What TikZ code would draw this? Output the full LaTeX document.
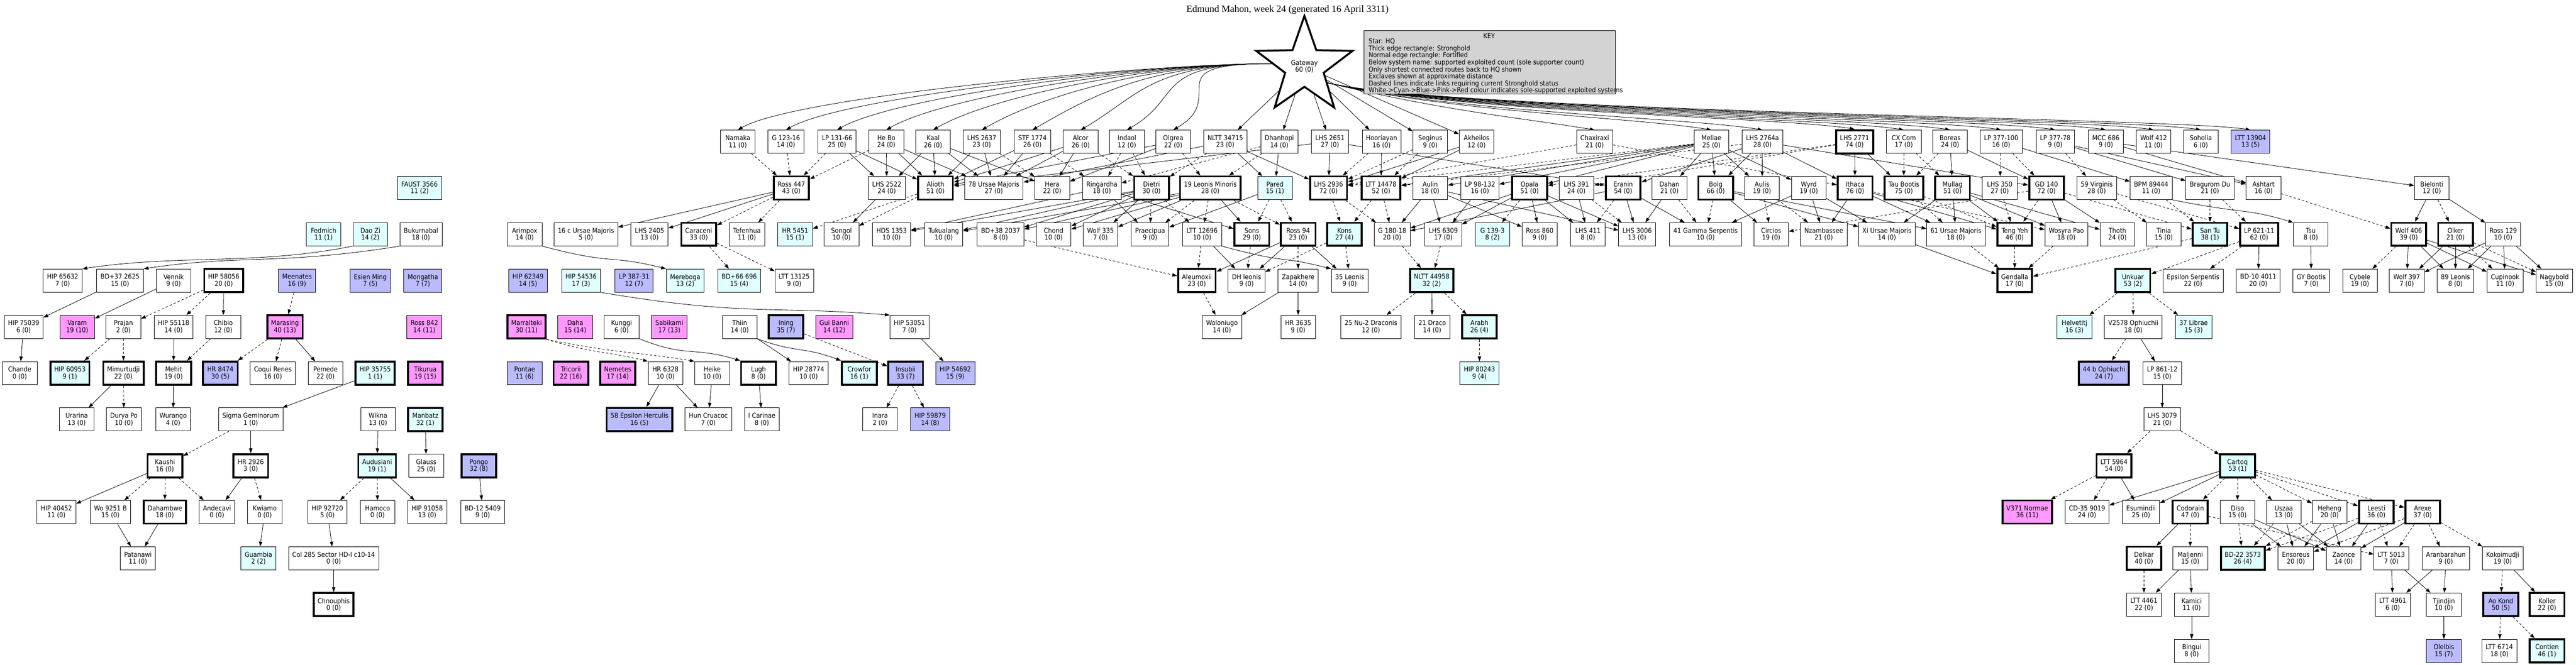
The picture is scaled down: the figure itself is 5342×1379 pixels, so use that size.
\documentclass[tikz,border=0pt]{standalone}
\usepackage{fontspec}
\usetikzlibrary{shapes.geometric,arrows.meta,backgrounds}
\newfontfamily\nf{DejaVu Sans Condensed}
\newfontfamily\tf{Liberation Serif}
\newcommand\nodefont{\nf\fontsize{14}{14.5}\selectfont}
\definecolor{cyanc}{HTML}{E0FFFF}
\definecolor{bluec}{HTML}{BBBBFF}
\definecolor{pinkc}{HTML}{FF99FF}
\definecolor{keyc}{HTML}{D3D3D3}
\tikzset{
 sys/.style={draw, rectangle, line width=1pt, minimum width=72pt, minimum height=48pt, inner xsep=8pt, inner ysep=3pt, align=center, font=\nodefont, fill=white},
 sh/.style={sys, line width=4pt},
 cy/.style={fill=cyanc}, bl/.style={fill=bluec}, pk/.style={fill=pinkc},
 ln/.style={-{Triangle[length=10pt,width=7pt]}, line width=0.9pt},
 dl/.style={ln, dash pattern=on 5pt off 4pt},
}
\begin{document}
\begin{tikzpicture}[x=1pt,y=-1pt]
\useasboundingbox (0,0) rectangle (5342,1379);
\node[font=\tf\fontsize{20}{24}\selectfont] (title) at (2670,20) {Edmund Mahon, week 24 (generated 16 April 3311)};
\node[star, star points=5, star point ratio=2.5, minimum size=210pt, draw, line width=4pt, fill=white, font=\nodefont, align=center, inner sep=0pt] (gw) at (2705,138) {Gateway\\60 (0)};
\node[draw, line width=1pt, fill=keyc, minimum width=521pt, minimum height=131pt, anchor=north west] (key) at (2828,63) {};
\node[font=\nodefont] (keyt) at (3088,75) {KEY};
\node[font=\nodefont, align=left, anchor=north west, inner sep=0pt] (keyb) at (2838,80) {Star: HQ\\Thick edge rectangle: Stronghold\\Normal edge rectangle: Fortified\\Below system name: supported exploited count (sole supporter count)\\Only shortest connected routes back to HQ shown\\Exclaves shown at approximate distance\\Dashed lines indicate links requiring current Stronghold status\\White->Cyan->Blue->Pink->Red colour indicates sole-supported exploited systems};
% row1
\node[sys] (namaka) at (1530,294) {Namaka\\11 (0)};
\node[sys] (g12316) at (1630,294) {G 123-16\\14 (0)};
\node[sys] (lp13166) at (1736,294) {LP 131-66\\25 (0)};
\node[sys] (hebo) at (1838,294) {He Bo\\24 (0)};
\node[sys] (kaal) at (1935,294) {Kaal\\26 (0)};
\node[sys] (lhs2637) at (2036,294) {LHS 2637\\23 (0)};
\node[sys] (stf1774) at (2141,294) {STF 1774\\26 (0)};
\node[sys] (alcor) at (2241,294) {Alcor\\26 (0)};
\node[sys] (indaol) at (2337,294) {Indaol\\12 (0)};
\node[sys] (olgrea) at (2433,294) {Olgrea\\22 (0)};
\node[sys] (nltt34715) at (2541,294) {NLTT 34715\\23 (0)};
\node[sys] (dhanhopi) at (2653,294) {Dhanhopi\\14 (0)};
\node[sys] (lhs2651) at (2758,294) {LHS 2651\\27 (0)};
\node[sys] (hooriayan) at (2865,294) {Hooriayan\\16 (0)};
\node[sys] (seginus) at (2966,294) {Seginus\\9 (0)};
\node[sys] (akheilos) at (3062,294) {Akheilos\\12 (0)};
\node[sys] (chaxiraxi) at (3307,294) {Chaxiraxi\\21 (0)};
\node[sys] (meliae) at (3549,294) {Meliae\\25 (0)};
\node[sys] (lhs2764a) at (3655,294) {LHS 2764a\\28 (0)};
\node[sh] (lhs2771) at (3846,294) {LHS 2771\\74 (0)};
\node[sys] (cxcom) at (3948,294) {CX Com\\17 (0)};
\node[sys] (boreas) at (4044,294) {Boreas\\24 (0)};
\node[sys] (lp377100) at (4150,294) {LP 377-100\\16 (0)};
\node[sys] (lp37778) at (4262,294) {LP 377-78\\9 (0)};
\node[sys] (mcc686) at (4367,294) {MCC 686\\9 (0)};
\node[sys] (wolf412) at (4466,294) {Wolf 412\\11 (0)};
\node[sys] (soholia) at (4564,294) {Soholia\\6 (0)};
\node[sys,bl] (ltt13904) at (4667,294) {LTT 13904\\13 (5)};
% row2
\node[sys,cy] (faust) at (870,390) {FAUST 3566\\11 (2)};
\node[sh] (ross447) at (1641,390) {Ross 447\\43 (0)};
\node[sys] (lhs2522) at (1839,390) {LHS 2522\\24 (0)};
\node[sh] (alioth) at (1940,390) {Alioth\\51 (0)};
\node[sys] (uma78) at (2061,390) {78 Ursae Majoris\\27 (0)};
\node[sys] (hera) at (2182,390) {Hera\\22 (0)};
\node[sys] (ringardha) at (2285,390) {Ringardha\\18 (0)};
\node[sh] (dietri) at (2388,390) {Dietri\\30 (0)};
\node[sh] (lmi19) at (2510,390) {19 Leonis Minoris\\28 (0)};
\node[sys,cy] (pared) at (2644,390) {Pared\\15 (1)};
\node[sh] (lhs2936) at (2755,390) {LHS 2936\\72 (0)};
\node[sh] (ltt14478) at (2864,390) {LTT 14478\\52 (0)};
\node[sys] (aulin) at (2966,390) {Aulin\\18 (0)};
\node[sys] (lp98132) at (3069,390) {LP 98-132\\16 (0)};
\node[sh] (opala) at (3172,390) {Opala\\51 (0)};
\node[sys] (lhs391) at (3269,390) {LHS 391\\24 (0)};
\node[sh] (eranin) at (3366,390) {Eranin\\54 (0)};
\node[sys] (dahan) at (3462,390) {Dahan\\21 (0)};
\node[sh] (bolg) at (3558,390) {Bolg\\66 (0)};
\node[sys] (aulis) at (3654,390) {Aulis\\19 (0)};
\node[sys] (wyrd) at (3751,390) {Wyrd\\19 (0)};
\node[sh] (ithaca) at (3847,390) {Ithaca\\76 (0)};
\node[sh] (taub) at (3948,390) {Tau Bootis\\75 (0)};
\node[sh] (mullag) at (4049,390) {Mullag\\51 (0)};
\node[sys] (lhs350) at (4147,390) {LHS 350\\27 (0)};
\node[sh] (gd140) at (4244,390) {GD 140\\72 (0)};
\node[sys] (vir59) at (4348,390) {59 Virginis\\28 (0)};
\node[sys] (bpm) at (4461,390) {BPM 89444\\11 (0)};
\node[sys] (bragurom) at (4583,390) {Bragurom Du\\21 (0)};
\node[sys] (ashtart) at (4694,390) {Ashtart\\16 (0)};
\node[sys] (bielonti) at (5043,390) {Bielonti\\12 (0)};
% row3
\node[sys,cy] (fedmich) at (671,486) {Fedmich\\11 (1)};
\node[sys,cy] (daozi) at (768,486) {Dao Zi\\14 (2)};
\node[sys] (bukurnabal) at (873,486) {Bukurnabal\\18 (0)};
\node[sys] (arimpox) at (1088,486) {Arimpox\\14 (0)};
\node[sys] (uma16) at (1215,486) {16 c Ursae Majoris\\5 (0)};
\node[sys] (lhs2405) at (1347,486) {LHS 2405\\13 (0)};
\node[sh] (caraceni) at (1449,486) {Caraceni\\33 (0)};
\node[sys] (tefenhua) at (1549,486) {Tefenhua\\11 (0)};
\node[sys,cy] (hr5451) at (1649,486) {HR 5451\\15 (1)};
\node[sys] (songol) at (1745,486) {Songol\\10 (0)};
\node[sys] (hds1353) at (1849,486) {HDS 1353\\10 (0)};
\node[sys] (tukualang) at (1957,486) {Tukualang\\10 (0)};
\node[sys] (bd382037) at (2075,486) {BD+38 2037\\8 (0)};
\node[sys] (chond) at (2185,486) {Chond\\10 (0)};
\node[sys] (wolf335) at (2282,486) {Wolf 335\\7 (0)};
\node[sys] (praecipua) at (2385,486) {Praecipua\\9 (0)};
\node[sys] (ltt12696) at (2493,486) {LTT 12696\\10 (0)};
\node[sh] (sons) at (2596,486) {Sons\\29 (0)};
\node[sh] (ross94) at (2692,486) {Ross 94\\23 (0)};
\node[sh,cy] (kons) at (2788,486) {Kons\\27 (4)};
\node[sys] (g18018) at (2887,486) {G 180-18\\20 (0)};
\node[sys] (lhs6309) at (2993,486) {LHS 6309\\17 (0)};
\node[sys,cy] (g1393) at (3095,486) {G 139-3\\8 (2)};
\node[sys] (ross860) at (3193,486) {Ross 860\\9 (0)};
\node[sys] (lhs411) at (3293,486) {LHS 411\\8 (0)};
\node[sys] (lhs3006) at (3395,486) {LHS 3006\\13 (0)};
\node[sys] (gam41) at (3537,486) {41 Gamma Serpentis\\10 (0)};
\node[sys] (circios) at (3673,486) {Circios\\19 (0)};
\node[sys] (nzamb) at (3782,486) {Nzambassee\\21 (0)};
\node[sys] (xiuma) at (3913,486) {Xi Ursae Majoris\\14 (0)};
\node[sys] (uma61) at (4056,486) {61 Ursae Majoris\\18 (0)};
\node[sh] (tengyeh) at (4178,486) {Teng Yeh\\46 (0)};
\node[sys] (wosyra) at (4285,486) {Wosyra Pao\\18 (0)};
\node[sys] (thoth) at (4391,486) {Thoth\\24 (0)};
\node[sys] (tinia) at (4487,486) {Tinia\\15 (0)};
\node[sh,cy] (santu) at (4583,486) {San Tu\\38 (1)};
\node[sh] (lp62111) at (4685,486) {LP 621-11\\62 (0)};
\node[sys] (tsu) at (4792,486) {Tsu\\8 (0)};
\node[sh] (wolf406) at (4995,486) {Wolf 406\\39 (0)};
\node[sh] (olker) at (5092,486) {Olker\\21 (0)};
\node[sys] (ross129) at (5191,486) {Ross 129\\10 (0)};
% row4
\node[sys] (hip65632) at (130,582) {HIP 65632\\7 (0)};
\node[sys] (bd372625) at (249,582) {BD+37 2625\\15 (0)};
\node[sys] (vennik) at (360,582) {Vennik\\9 (0)};
\node[sh] (hip58056) at (464,582) {HIP 58056\\20 (0)};
\node[sys,bl] (meenates) at (616,582) {Meenates\\16 (9)};
\node[sys,bl] (esien) at (768,582) {Esien Ming\\7 (5)};
\node[sys,bl] (mongatha) at (877,582) {Mongatha\\7 (7)};
\node[sys,bl] (hip62349) at (1095,582) {HIP 62349\\14 (5)};
\node[sys,cy] (hip54536) at (1205,582) {HIP 54536\\17 (3)};
\node[sys,bl] (lp38731) at (1315,582) {LP 387-31\\12 (7)};
\node[sys,cy] (mereboga) at (1421,582) {Mereboga\\13 (2)};
\node[sys,cy] (bd66696) at (1533,582) {BD+66 696\\15 (4)};
\node[sys] (ltt13125) at (1647,582) {LTT 13125\\9 (0)};
\node[sh] (aleumoxii) at (2482,582) {Aleumoxii\\23 (0)};
\node[sys] (dhleo) at (2585,582) {DH leonis\\9 (0)};
\node[sys] (zapakhere) at (2692,582) {Zapakhere\\14 (0)};
\node[sys] (leo35) at (2799,582) {35 Leonis\\9 (0)};
\node[sh,cy] (nltt44958) at (2969,582) {NLTT 44958\\32 (2)};
\node[sh] (gendalla) at (4178,582) {Gendalla\\17 (0)};
\node[sh,cy] (unkuar) at (4423,582) {Unkuar\\53 (2)};
\node[sys] (epsser) at (4548,582) {Epsilon Serpentis\\22 (0)};
\node[sys] (bd104011) at (4683,582) {BD-10 4011\\20 (0)};
\node[sys] (gyboo) at (4793,582) {GY Bootis\\7 (0)};
\node[sys] (cybele) at (4894,582) {Cybele\\19 (0)};
\node[sys] (wolf397) at (4991,582) {Wolf 397\\7 (0)};
\node[sys] (leo89) at (5092,582) {89 Leonis\\8 (0)};
\node[sys] (cupinook) at (5195,582) {Cupinook\\11 (0)};
\node[sys] (nagybold) at (5297,582) {Nagybold\\15 (0)};
% row5
\node[sys] (hip75039) at (49,678) {HIP 75039\\6 (0)};
\node[sys,pk] (varam) at (160,678) {Varam\\19 (10)};
\node[sys] (prajan) at (256,678) {Prajan\\2 (0)};
\node[sys] (hip55118) at (360,678) {HIP 55118\\14 (0)};
\node[sys] (chibio) at (463,678) {Chibio\\12 (0)};
\node[sh,pk] (marasing) at (591,678) {Marasing\\40 (13)};
\node[sys,pk] (ross842) at (880,678) {Ross 842\\14 (11)};
\node[sh,pk] (marralteki) at (1092,678) {Marralteki\\30 (11)};
\node[sys,pk] (daha) at (1193,678) {Daha\\15 (14)};
\node[sys] (kunggi) at (1289,678) {Kunggi\\6 (0)};
\node[sys,pk] (sabikami) at (1388,678) {Sabikami\\17 (13)};
\node[sys] (thiin) at (1534,678) {Thiin\\14 (0)};
\node[sh,bl] (ining) at (1630,678) {Ining\\35 (7)};
\node[sys,pk] (guibanni) at (1730,678) {Gui Banni\\14 (12)};
\node[sys] (hip53051) at (1886,678) {HIP 53051\\7 (0)};
\node[sys] (woloniugo) at (2534,678) {Woloniugo\\14 (0)};
\node[sys] (hr3635) at (2692,678) {HR 3635\\9 (0)};
\node[sys] (nu2dra) at (2843,678) {25 Nu-2 Draconis\\12 (0)};
\node[sys] (dra21) at (2970,678) {21 Draco\\14 (0)};
\node[sh,cy] (arabh) at (3068,678) {Arabh\\26 (4)};
\node[sys,cy] (helvetitj) at (4302,678) {Helvetitj\\16 (3)};
\node[sys] (v2578) at (4424,678) {V2578 Ophiuchii\\18 (0)};
\node[sys,cy] (lib37) at (4549,678) {37 Librae\\15 (3)};
% row6
\node[sys] (chande) at (41,774) {Chande\\0 (0)};
\node[sh,cy] (hip60953) at (145,774) {HIP 60953\\9 (1)};
\node[sh] (mimurtudji) at (256,774) {Mimurtudji\\22 (0)};
\node[sh] (mehit) at (360,774) {Mehit\\19 (0)};
\node[sh,bl] (hr8474) at (457,774) {HR 8474\\30 (5)};
\node[sys] (coqui) at (566,774) {Coqui Renes\\16 (0)};
\node[sys] (pemede) at (675,774) {Pemede\\22 (0)};
\node[sh,cy] (hip35755) at (778,774) {HIP 35755\\1 (1)};
\node[sh,pk] (tikurua) at (882,774) {Tikurua\\19 (15)};
\node[sys,bl] (pontae) at (1088,774) {Pontae\\11 (6)};
\node[sh,pk] (tricorii) at (1184,774) {Tricorii\\22 (16)};
\node[sh,pk] (nemetes) at (1281,774) {Nemetes\\17 (14)};
\node[sys] (hr6328) at (1380,774) {HR 6328\\10 (0)};
\node[sys] (heike) at (1477,774) {Heike\\10 (0)};
\node[sh] (lugh) at (1573,774) {Lugh\\8 (0)};
\node[sys] (hip28774) at (1677,774) {HIP 28774\\10 (0)};
\node[sh,cy] (crowfor) at (1782,774) {Crowfor\\16 (1)};
\node[sh,bl] (insubii) at (1878,774) {Insubii\\33 (7)};
\node[sys,bl] (hip54692) at (1981,774) {HIP 54692\\15 (9)};
\node[sys,cy] (hip80243) at (3068,774) {HIP 80243\\9 (4)};
\node[sh,bl] (oph44b) at (4363,774) {44 b Ophiuchi\\24 (7)};
\node[sys] (lp86112) at (4484,774) {LP 861-12\\15 (0)};
% row7
\node[sys] (urarina) at (159,870) {Urarina\\13 (0)};
\node[sys] (durya) at (257,870) {Durya Po\\10 (0)};
\node[sys] (wurango) at (359,870) {Wurango\\4 (0)};
\node[sys] (siggem) at (520,870) {Sigma Geminorum\\1 (0)};
\node[sys] (wikna) at (784,870) {Wikna\\13 (0)};
\node[sh,cy] (manbatz) at (882,870) {Manbatz\\32 (1)};
\node[sh,bl] (epsher58) at (1326,870) {58 Epsilon Herculis\\16 (5)};
\node[sys] (huncru) at (1469,870) {Hun Cruacoc\\7 (0)};
\node[sys] (icar) at (1580,870) {I Carinae\\8 (0)};
\node[sys] (inara) at (1825,870) {Inara\\2 (0)};
\node[sys,bl] (hip59879) at (1929,870) {HIP 59879\\14 (8)};
\node[sys] (lhs3079) at (4484,870) {LHS 3079\\21 (0)};
% row8
\node[sh] (kaushi) at (342,966) {Kaushi\\16 (0)};
\node[sh] (hr2926) at (520,966) {HR 2926\\3 (0)};
\node[sh,cy] (audusiani) at (782,966) {Audusiani\\19 (1)};
\node[sys] (glauss) at (884,966) {Glauss\\25 (0)};
\node[sh,bl] (pongo) at (993,966) {Pongo\\32 (8)};
\node[sh] (ltt5964) at (4384,966) {LTT 5964\\54 (0)};
\node[sh,cy] (cartoq) at (4640,966) {Cartoq\\53 (1)};
% row9
\node[sys] (hip40452) at (117,1062) {HIP 40452\\11 (0)};
\node[sys] (wo9251) at (229,1062) {Wo 9251 B\\15 (0)};
\node[sh] (dahambwe) at (342,1062) {Dahambwe\\18 (0)};
\node[sys] (andecavi) at (450,1062) {Andecavi\\0 (0)};
\node[sys] (kwiamo) at (549,1062) {Kwiamo\\0 (0)};
\node[sys] (hip92720) at (679,1062) {HIP 92720\\5 (0)};
\node[sys] (hamoco) at (783,1062) {Hamoco\\0 (0)};
\node[sys] (hip91058) at (886,1062) {HIP 91058\\13 (0)};
\node[sys] (bd125409) at (1001,1062) {BD-12 5409\\9 (0)};
\node[sh,pk] (v371) at (4204,1062) {V371 Normae\\36 (11)};
\node[sys] (cd359019) at (4328,1062) {CD-35 9019\\24 (0)};
\node[sys] (esumindii) at (4440,1062) {Esumindii\\25 (0)};
\node[sh] (codorain) at (4542,1062) {Codorain\\47 (0)};
\node[sys] (diso) at (4640,1062) {Diso\\15 (0)};
\node[sys] (uszaa) at (4736,1062) {Uszaa\\13 (0)};
\node[sys] (heheng) at (4831,1062) {Heheng\\20 (0)};
\node[sh] (leesti) at (4928,1062) {Leesti\\36 (0)};
\node[sh] (arexe) at (5024,1062) {Arexe\\37 (0)};
% row10
\node[sys] (patanawi) at (286,1158) {Patanawi\\11 (0)};
\node[sys,cy] (guambia) at (536,1158) {Guambia\\2 (2)};
\node[sys] (col285) at (692,1158) {Col 285 Sector HD-I c10-14\\0 (0)};
\node[sh] (delkar) at (4446,1158) {Delkar\\40 (0)};
\node[sys] (maljenni) at (4542,1158) {Maljenni\\15 (0)};
\node[sh,cy] (bd223573) at (4651,1158) {BD-22 3573\\26 (4)};
\node[sys] (ensoreus) at (4761,1158) {Ensoreus\\20 (0)};
\node[sys] (zaonce) at (4860,1158) {Zaonce\\14 (0)};
\node[sys] (ltt5013) at (4959,1158) {LTT 5013\\7 (0)};
\node[sys] (aranbarahun) at (5072,1158) {Aranbarahun\\9 (0)};
\node[sys] (kokoimudji) at (5190,1158) {Kokoimudji\\19 (0)};
% row11
\node[sh] (chnouphis) at (692,1254) {Chnouphis\\0 (0)};
\node[sys] (ltt4461) at (4446,1254) {LTT 4461\\22 (0)};
\node[sys] (kamici) at (4545,1254) {Kamici\\11 (0)};
\node[sys] (ltt4961) at (4962,1254) {LTT 4961\\6 (0)};
\node[sys] (tjindjin) at (5068,1254) {Tjindjin\\10 (0)};
\node[sh,bl] (aokond) at (5186,1254) {Ao Kond\\50 (5)};
\node[sh] (koller) at (5282,1254) {Koller\\22 (0)};
% row12
\node[sys] (bingui) at (4545,1350) {Bingui\\8 (0)};
\node[sys,bl] (olelbis) at (5068,1350) {Olelbis\\15 (7)};
\node[sys] (ltt6714) at (5183,1350) {LTT 6714\\18 (0)};
\node[sh,cy] (contien) at (5282,1350) {Contien\\46 (1)};

\begin{pgfonlayer}{background}
\foreach \n in {namaka,g12316,lp13166,hebo,kaal,lhs2637,stf1774,alcor,indaol,olgrea}
  \draw[ln] (gw.175) .. controls +(-250,0) and +(120,-70) .. (\n.north);
\foreach \n in {nltt34715,dhanhopi,lhs2651,hooriayan,seginus,akheilos}
  \draw[ln] (gw) -- (\n);
\foreach \n in {chaxiraxi,meliae,lhs2764a,lhs2771,cxcom,boreas,lp377100,lp37778,mcc686,wolf412,soholia,ltt13904}
  \draw[ln] (gw.-35) .. controls +(250,60) and +(-150,-25) .. (\n.north);
\foreach \a/\b in {lp13166/lhs2522,lp13166/alioth,hebo/lhs2522,hebo/alioth,hebo/uma78,kaal/lhs2522,kaal/alioth,kaal/uma78,kaal/hera,lhs2637/alioth,lhs2637/uma78,stf1774/uma78,stf1774/alioth,alcor/hera,alcor/alioth,alcor/uma78,olgrea/alioth,olgrea/hera,nltt34715/uma78,nltt34715/pared,nltt34715/lhs2936,dhanhopi/pared,lhs2651/lhs2936,lhs2651/alioth,lhs2651/eranin,hooriayan/ltt14478,akheilos/ltt14478,akheilos/lhs2936,meliae/bolg,meliae/aulis,meliae/aulin,meliae/lp98132,meliae/opala,meliae/dahan,meliae/wyrd,meliae/ltt14478,lhs2764a/aulis,lhs2764a/bolg,lhs2764a/ithaca,lhs2764a/eranin,lhs2764a/gd140,lhs2771/ithaca,lhs2771/taub,boreas/mullag,boreas/gd140,lp37778/bragurom,lp37778/ashtart,mcc686/bielonti,mcc686/ashtart,lp377100/bpm,
ross447/uma16,ross447/lhs2405,lhs2522/songol,ringardha/hds1353,ringardha/praecipua,ringardha/sons,dietri/hds1353,dietri/tukualang,dietri/bd382037,dietri/chond,dietri/wolf335,lmi19/tukualang,lmi19/bd382037,lmi19/chond,lmi19/wolf335,lmi19/sons,pared/praecipua,aulin/g18018,aulin/lhs6309,aulin/ross860,aulin/lhs3006,lp98132/lhs6309,opala/g18018,opala/lhs6309,opala/ross860,opala/lhs411,opala/lhs3006,lhs391/lhs411,eranin/lhs3006,eranin/gam41,eranin/g18018,dahan/lhs3006,bolg/circios,bolg/xiuma,bolg/uma61,wyrd/nzamb,wyrd/xiuma,wyrd/gam41,ithaca/nzamb,ithaca/uma61,ithaca/tengyeh,mullag/xiuma,mullag/uma61,mullag/tengyeh,mullag/wosyra,mullag/thoth,gd140/wosyra,gd140/thoth,bielonti/wolf406,bielonti/ross129,
bd372625/hip75039,vennik/varam,hip58056/chibio,hip75039/chande,hip55118/mehit,marasing/pemede,mimurtudji/urarina,mehit/wurango,hip35755/siggem,siggem/hr2926,wikna/audusiani,manbatz/glauss,kaushi/hip40452,hr2926/andecavi,audusiani/hip91058,wo9251/patanawi,dahambwe/patanawi,kwiamo/guambia,hip92720/col285,col285/chnouphis,pongo/bd125409,thiin/hip28774,hip53051/hip54692,hr6328/epsher58,hr6328/huncru,heike/huncru,lugh/icar,
ltt12696/dhleo,ross94/aleumoxii,ross94/leo35,ross94/dhleo,zapakhere/woloniugo,zapakhere/hr3635,nltt44958/dra21,xiuma/gendalla,lp62111/bd104011,tsu/gyboo,wolf406/wolf397,wolf406/leo89,wolf406/cupinook,wolf406/nagybold,olker/wolf397,olker/leo89,ross129/wolf397,ross129/leo89,ross129/cupinook,ross129/nagybold,v2578/lp86112,lp86112/lhs3079,ltt5964/esumindii,cartoq/cd359019,cartoq/esumindii,codorain/delkar,diso/ensoreus,diso/zaonce,uszaa/ensoreus,uszaa/zaonce,heheng/ensoreus,heheng/zaonce,leesti/ensoreus,leesti/zaonce,arexe/zaonce,maljenni/ltt4461,maljenni/kamici,kamici/bingui,ltt5013/ltt4961,ltt5013/tjindjin,aranbarahun/ltt4961,aranbarahun/tjindjin,tjindjin/olelbis,kokoimudji/koller}
  \draw[ln] (\a) -- (\b);
\foreach \a/\b in {namaka/ross447,g12316/ross447,lp13166/ross447,hebo/ross447,lhs2637/hera,stf1774/ringardha,alcor/dietri,indaol/dietri,indaol/ringardha,olgrea/lmi19,nltt34715/dietri,dhanhopi/ringardha,dhanhopi/lmi19,hooriayan/lhs2936,seginus/ltt14478,seginus/lhs2936,chaxiraxi/lhs2936,chaxiraxi/ithaca,meliae/lhs2936,lhs2764a/ltt14478,lhs2771/lhs391,lhs2771/opala,cxcom/taub,cxcom/mullag,boreas/taub,lp377100/gd140,lp377100/lhs350,lp37778/vir59,
ross447/caraceni,ross447/tefenhua,alioth/hr5451,alioth/songol,dietri/praecipua,dietri/ltt12696,lmi19/praecipua,lmi19/ltt12696,lmi19/ross94,pared/sons,pared/ross94,lhs2936/kons,lhs2936/g18018,ltt14478/g18018,ltt14478/kons,opala/g1393,lhs391/lhs3006,eranin/lhs411,dahan/gam41,bolg/gam41,aulis/circios,aulis/nzamb,ithaca/wosyra,taub/uma61,taub/tengyeh,lhs350/tengyeh,gd140/tengyeh,gd140/santu,gd140/circios,vir59/tinia,vir59/lp62111,bpm/santu,bragurom/santu,bragurom/lp62111,ashtart/wolf406,bielonti/olker,
hip58056/prajan,hip58056/hip55118,meenates/marasing,prajan/hip60953,prajan/mimurtudji,chibio/mehit,marasing/hr8474,marasing/coqui,mimurtudji/durya,siggem/kaushi,kaushi/wo9251,kaushi/dahambwe,kaushi/andecavi,hr2926/kwiamo,audusiani/hip92720,audusiani/hamoco,caraceni/bd66696,caraceni/ltt13125,ining/insubii,insubii/inara,insubii/hip59879,
ltt12696/aleumoxii,bd382037/aleumoxii,sons/dhleo,ross94/zapakhere,kons/leo35,kons/dhleo,aleumoxii/woloniugo,g18018/nltt44958,lhs6309/nltt44958,nltt44958/nu2dra,nltt44958/arabh,arabh/hip80243,uma61/gendalla,tengyeh/gendalla,wosyra/gendalla,santu/gendalla,lp62111/unkuar,lp62111/epsser,unkuar/helvetitj,unkuar/v2578,unkuar/lib37,v2578/oph44b,lhs3079/ltt5964,lhs3079/cartoq,ltt5964/v371,ltt5964/cd359019,cartoq/codorain,cartoq/diso,cartoq/uszaa,cartoq/heheng,cartoq/leesti,cartoq/arexe,codorain/maljenni,codorain/ltt5013,diso/bd223573,uszaa/bd223573,heheng/bd223573,leesti/bd223573,leesti/ltt5013,arexe/ltt5013,arexe/aranbarahun,arexe/kokoimudji,arexe/ensoreus,delkar/ltt4461,kokoimudji/aokond,aokond/ltt6714,aokond/contien,wolf406/cybele,olker/cupinook,olker/nagybold}
  \draw[dl] (\a) -- (\b);
\draw[ln] (daozi.south west) .. controls +(-200,40) and +(200,-30) .. (hip65632.north east);
\draw[ln] (bukurnabal.south west) .. controls +(-250,40) and +(200,-30) .. (bd372625.north east);
\draw[ln] (arimpox.south east) .. controls +(150,40) and +(-120,-30) .. (mereboga.north west);
\draw[ln] (hip54536.south east) .. controls +(300,50) and +(-250,-20) .. (hip53051.north west);
\draw[ln] (kunggi.south east) .. controls +(100,40) and +(-100,-30) .. (lugh.north west);
\draw[ln] (thiin.south east) .. controls +(80,30) and +(-80,-30) .. (crowfor.north west);
\draw[dl] (marralteki.south east) .. controls +(100,30) and +(-80,-20) .. (hr6328.north west);
\draw[dl] (marralteki.south east) .. controls +(150,30) and +(-120,-20) .. (heike.north west);
\draw[ln] (bpm.south east) .. controls +(150,30) and +(-100,-30) .. (tsu.north west);
\draw[ln] (ltt12696.south east) .. controls +(150,40) and +(-120,-30) .. (leo35.north west);
\end{pgfonlayer}
\end{tikzpicture}
\end{document}
